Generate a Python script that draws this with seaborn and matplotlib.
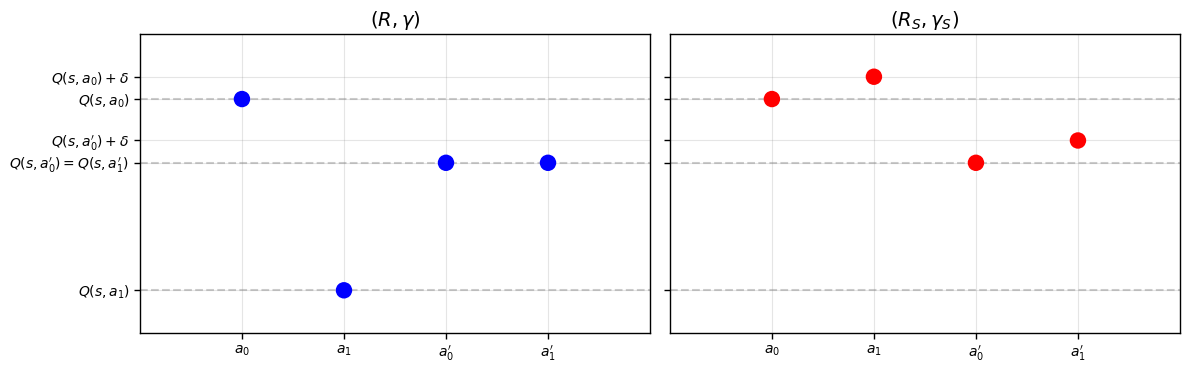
import matplotlib
matplotlib.use("Agg")
import matplotlib.pyplot as plt
import seaborn as sns
import pandas as pd

actions = [r"$a_0$", r"$a_1$", r"$a^{\prime}_0$", r"$a^{\prime}_1$"]
q_orig = [3.0, 0.0, 2.0, 2.0]          # (R, gamma)
q_shaped = [3.0, 3.35, 2.0, 2.35]      # (R_S, gamma_S)
delta = 0.35
ytick_vals = [0.0, 2.0, 2.0 + delta, 3.0, 3.0 + delta]
ytick_labels = [r"$Q(s,a_1)$", r"$Q(s,a^{\prime}_0)=Q(s,a^{\prime}_1)$", r"$Q(s,a^{\prime}_0)+\delta$",
                r"$Q(s,a_0)$", r"$Q(s,a_0)+\delta$"]
dashed_levels = [3.0, 2.0, 0.0]
titles = [r"$(R,\gamma)$", r"$(R_S,\gamma_S)$"]
colors = ["blue", "red"]

sns.set_style("white")
plt.rcParams['font.family'] = ['DejaVu Sans']
for k in ['text.color', 'axes.labelcolor', 'xtick.color', 'ytick.color', 'axes.edgecolor']:
    plt.rcParams[k] = 'black'

fig, axes = plt.subplots(1, 2, figsize=(11.89, 3.73), dpi=100, sharey=True)
fig.subplots_adjust(left=0.1177, right=0.9924, bottom=0.1072, top=0.9088, wspace=0.039)

for ax, vals, title, col in zip(axes, [q_orig, q_shaped], titles, colors):
    df = pd.DataFrame({"action": actions, "q": vals})
    for lv in dashed_levels:
        ax.axhline(lv, color="gray", linestyle="--", alpha=0.4, linewidth=1.5, zorder=1)
    sns.scatterplot(data=df, x="action", y="q", color=col, s=140, edgecolor="none",
                    ax=ax, zorder=3)
    ax.set_xlim(-1, 4)
    ax.set_ylim(-0.67, 4.02)
    ax.set_yticks(ytick_vals)
    ax.set_yticklabels(ytick_labels)
    ax.set_xlabel("")
    ax.set_ylabel("")
    ax.set_title(title, fontsize=14)
    ax.grid(True, color="gray", alpha=0.2, linewidth=0.8)
    ax.set_axisbelow(True)
    ax.tick_params(axis="both", which="both", length=4, width=1, color="black",
                   bottom=True, left=True, labelsize=10)
    for s in ax.spines.values():
        s.set_color("black")
        s.set_linewidth(1.0)
axes[1].tick_params(labelleft=False)

fig.savefig("out.png", dpi=100)
